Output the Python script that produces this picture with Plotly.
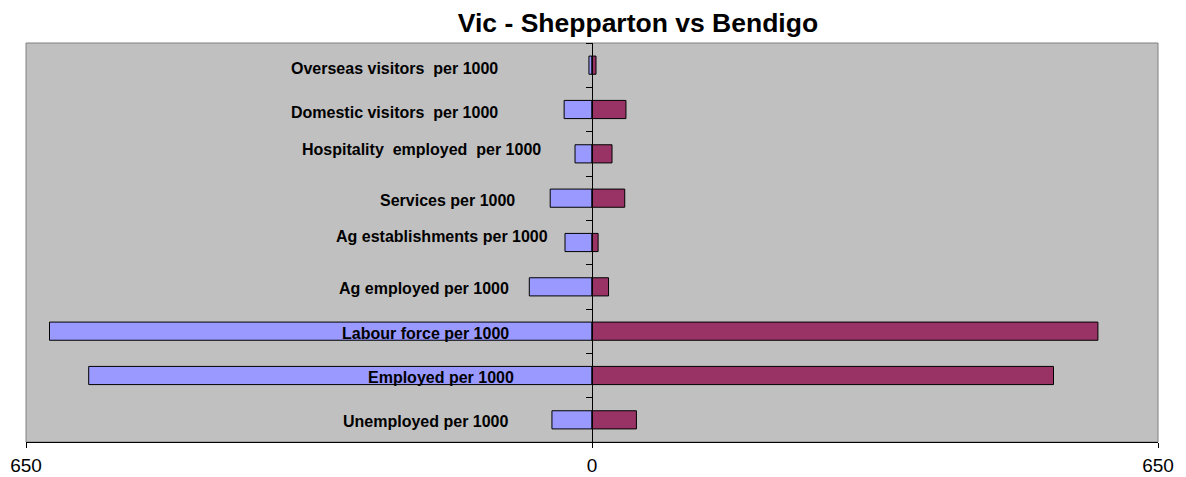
import plotly.graph_objects as go

categories = [
    "Overseas visitors  per 1000",
    "Domestic visitors  per 1000",
    "Hospitality  employed  per 1000",
    "Services per 1000",
    "Ag establishments per 1000",
    "Ag employed per 1000",
    "Labour force per 1000",
    "Employed per 1000",
    "Unemployed per 1000",
]
shepparton = [3.5, 32, 19.5, 48, 31, 72, 623, 578, 46]
bendigo = [4.6, 39, 23, 37.6, 7, 19, 581, 530, 51]
x_tick_vals = [-650, 0, 650]
x_tick_text = ["650", "0", "650"]

# label placement (pixel shifts relative to the zero axis / category centre)
label_xshift = [-92, -92, -49, -75, -42, -81, -81, -76, -81]
label_yshift = [-3.8, -3.2, 4.5, -2.6, 5.7, -1.6, -2.3, -2.0, -2.1]

FONT = "Liberation Sans, Arial, sans-serif"

fig = go.Figure()
fig.add_trace(go.Bar(
    y=categories, x=[-v for v in shepparton], orientation="h", name="Shepparton",
    marker=dict(color="#9999FF", line=dict(color="black", width=1)),
))
fig.add_trace(go.Bar(
    y=categories, x=bendigo, orientation="h", name="Bendigo",
    marker=dict(color="#993366", line=dict(color="black", width=1)),
))

annotations = []
for cat, xs, ys in zip(categories, label_xshift, label_yshift):
    annotations.append(dict(
        x=0, y=cat, xref="x", yref="y", text="<b>%s</b>" % cat, showarrow=False,
        xanchor="right", yanchor="middle", xshift=xs, yshift=ys,
        font=dict(family=FONT, size=16, color="black"),
    ))

fig.update_layout(
    width=1186, height=477,
    margin=dict(l=26, r=28, t=43, b=35),
    barmode="relative", bargap=0.59,
    paper_bgcolor="white", plot_bgcolor="#C0C0C0",
    showlegend=False,
    title=dict(text="<b>Vic - Shepparton vs Bendigo</b>", x=0.5406, xref="paper",
               xanchor="center", y=1 - 22.5 / 477, yref="container", yanchor="middle",
               font=dict(family=FONT, size=26.5, color="black")),
    xaxis=dict(range=[-650, 650], tickvals=x_tick_vals, ticktext=x_tick_text,
               showgrid=False, zeroline=False, showline=True, linecolor="black",
               linewidth=1, ticks="outside", ticklen=5, tickcolor="black",
               ticklabelstandoff=1, automargin=False,
               tickfont=dict(family=FONT, size=19, color="black"), fixedrange=True),
    yaxis=dict(type="category", categoryorder="array", categoryarray=categories,
               autorange="reversed", anchor="free", position=0.5, automargin=False,
               showline=True, linecolor="black", linewidth=1, showgrid=False,
               zeroline=False, ticks="outside", ticklen=6, tickcolor="black",
               tickson="boundaries", showticklabels=False, fixedrange=True),
    annotations=annotations,
    shapes=[dict(type="rect", xref="paper", yref="paper", x0=0, y0=0, x1=1, y1=1,
                 line=dict(color="#808080", width=1), layer="below")],
)

fig.write_html("out.html", config={"displayModeBar": False},
               post_script="document.body.style.margin='0';")
